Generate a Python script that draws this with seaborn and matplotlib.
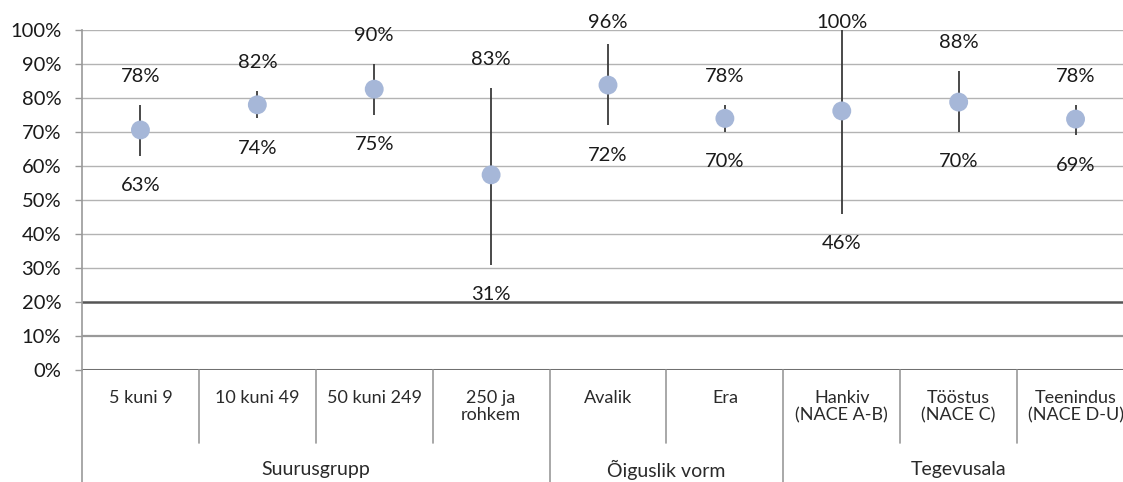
import numpy as np
import pandas as pd
import matplotlib
matplotlib.use("Agg")
import matplotlib.pyplot as plt
import matplotlib.transforms as mtransforms
import seaborn as sns

# Andmed
categories = ["5 kuni 9", "10 kuni 49", "50 kuni 249", "250 ja\nrohkem",
              "Avalik", "Era",
              "Hankiv\n(NACE A-B)", "Tööstus\n(NACE C)", "Teenindus\n(NACE D-U)"]
groups = ["Suurusgrupp", "Õiguslik vorm", "Tegevusala"]
group_sizes = [4, 2, 3]
mid_values = [0.706, 0.78, 0.826, 0.574, 0.838, 0.74, 0.762, 0.788, 0.738]
low_values = [0.63, 0.74, 0.75, 0.31, 0.72, 0.70, 0.46, 0.70, 0.69]
high_values = [0.78, 0.82, 0.90, 0.83, 0.96, 0.78, 1.00, 0.88, 0.78]
y_ticks = np.arange(0, 1.01, 0.1)

df = pd.DataFrame({"kat": categories, "mid": mid_values,
                   "low": low_values, "high": high_values})

sns.set_theme(style="white")
plt.rcParams["font.family"] = ["Lato", "DejaVu Sans"]

fig = plt.figure(figsize=(11.23, 4.82), dpi=100)
ax = fig.add_axes([82 / 1123, 112 / 482, 1052 / 1123, 340 / 482])

# ruudustik
for t in y_ticks:
    if np.isclose(t, 0.2):
        ax.axhline(t, color="#555555", lw=1.8, zorder=0)
    elif np.isclose(t, 0.1):
        ax.axhline(t, color="#999999", lw=1.6, zorder=0)
    elif np.isclose(t, 0.0):
        ax.axhline(t, color="#707070", lw=2.2, zorder=0)
    else:
        ax.axhline(t, color="#b3b3b3", lw=1.0, zorder=0)

x = np.arange(len(categories))
ax.vlines(x, df["low"], df["high"], color="#3a3a3a", lw=1.3, zorder=2)
sns.scatterplot(x=x, y=df["mid"], ax=ax, s=185, color="#a6b7d8",
                edgecolor="none", zorder=3, legend=False)

for i, row in df.iterrows():
    ax.text(i, min(row["high"] + 0.083, 1.023), f"{row['high']:.0%}",
            ha="center", va="center", fontsize=14.5, color="#1a1a1a")
    ax.text(i, row["low"] - 0.088, f"{row['low']:.0%}",
            ha="center", va="center", fontsize=14.5, color="#1a1a1a")

ax.set_xlim(-0.5, len(categories) - 0.5)
ax.set_ylim(0, 1)
ax.set_yticks(y_ticks)
ax.set_yticklabels([f"{t:.0%}" for t in y_ticks], fontsize=14.5, color="#1a1a1a")
ax.set_xticks([])
ax.set_xlabel("")
ax.set_ylabel("")
ax.tick_params(axis="y", length=5, width=1, color="#999999", pad=10, left=True)
for s in ["top", "right", "bottom"]:
    ax.spines[s].set_visible(False)
ax.spines["left"].set_color("#999999")
ax.spines["left"].set_linewidth(1.2)

# mitmetasemeline x-telg
trans = mtransforms.blended_transform_factory(ax.transData, ax.transAxes)
for i, c in enumerate(categories):
    ax.text(i, -0.058, c, transform=trans, ha="center", va="top",
            fontsize=13, color="#2a2a2a", linespacing=1.1, clip_on=False)

bounds = np.cumsum([0] + group_sizes) - 0.5
for k in range(len(categories) + 1):
    xb = k - 0.5
    full = np.any(np.isclose(bounds, xb))
    ax.plot([xb, xb], [0, -0.33 if full else -0.215], transform=trans,
            color="#999999", lw=1.2, clip_on=False)
for g, n, b in zip(groups, group_sizes, bounds[:-1]):
    ax.text(b + n / 2, -0.294, g, transform=trans, ha="center", va="center",
            fontsize=14, color="#2a2a2a", clip_on=False)

fig.savefig("out.png", dpi=100)
